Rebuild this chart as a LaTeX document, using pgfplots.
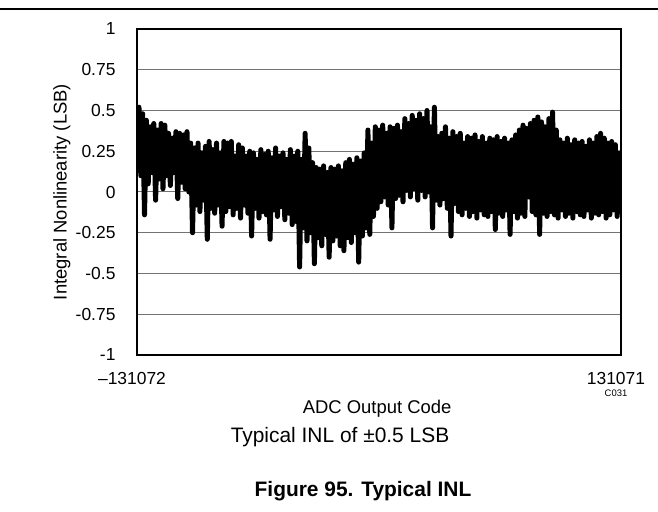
\documentclass[border=0pt]{standalone}
\usepackage{fontspec}
\setmainfont{Liberation Sans}
\usepackage{pgfplots}
\pgfplotsset{compat=1.18}

\begin{document}
\begin{tikzpicture}
\useasboundingbox (-137bp,-157bp) rectangle (521bp,355bp);
\begin{axis}[
  width=484bp, height=326bp, scale only axis,
  xmin=-131072, xmax=131071, ymin=-1, ymax=1,
  scaled x ticks=false,
  xtick={-131072,131071}, xticklabels={–131072,131071},
  ytick={-1,-0.75,-0.5,-0.25,0,0.25,0.5,0.75,1},
  yticklabels={-1,-0.75,-0.5,-0.25,0,0.25,0.5,0.75,1},
  major tick length=0pt,
  ymajorgrids, grid style={black!55, line width=1bp},
  axis line style={line width=2bp},
  tick label style={font=\fontsize{17.5}{20}\selectfont},
  yticklabel style={xshift=-18bp},
  xticklabel style={yshift=-14bp, xshift=-5bp},
  xlabel={ADC Output Code}, ylabel={Integral Nonlinearity (LSB)},
  label style={font=\fontsize{18.5}{22}\selectfont},
  xlabel style={at={(axis description cs:0.496,-0.166)}, anchor=center},
  ylabel style={at={(axis description cs:-0.155,0.5)}, anchor=center},
]
% INL vs output code
\addplot[black, line width=5bp, line join=round, line cap=round] coordinates {
(-131072,0.30) (-130000,0.52) (-129000,0.10) (-128000,0.48) (-127000,-0.14)
(-126000,0.44) (-125000,0.05) (-124000,0.40) (-123000,0.12) (-122000,0.42)
(-121000,-0.05) (-120000,0.38) (-119000,0.08) (-118000,0.42) (-117000,0.02)
(-116000,0.41) (-115000,0.10) (-114000,0.36) (-113000,0.04) (-112000,0.33)
(-111000,0.12) (-110000,0.37) (-109000,-0.04) (-108000,0.36) (-107000,0.06)
(-106000,0.35) (-105000,0.02) (-104000,0.37) (-103000,0.00) (-102000,0.30)
(-101000,-0.25) (-100000,0.27) (-99000,-0.08) (-98000,0.30) (-97000,-0.12)
(-96000,0.24) (-95000,-0.05) (-94000,0.28) (-93000,-0.29) (-92000,0.31)
(-91000,-0.10) (-90000,0.26) (-89000,-0.13) (-88000,0.30) (-87000,-0.08)
(-86000,0.24) (-85000,-0.21) (-84000,0.31) (-83000,-0.12) (-82000,0.30)
(-81000,-0.09) (-80000,0.31) (-79000,-0.14) (-78000,0.22) (-77000,-0.10)
(-76000,0.29) (-75000,-0.16) (-74000,0.27) (-73000,-0.08) (-72000,0.22)
(-71000,-0.13) (-70000,0.25) (-69000,-0.27) (-68000,0.24) (-67000,-0.10)
(-66000,0.20) (-65000,-0.16) (-64000,0.26) (-63000,-0.12) (-62000,0.23)
(-61000,-0.14) (-60000,0.25) (-59000,-0.29) (-58000,0.21) (-57000,-0.11)
(-56000,0.27) (-55000,-0.15) (-54000,0.22) (-53000,-0.09) (-52000,0.24)
(-51000,-0.17) (-50000,0.20) (-49000,-0.13) (-48000,0.26) (-47000,-0.20)
(-46000,0.22) (-45000,-0.18) (-44000,0.25) (-43000,-0.46) (-42000,0.20)
(-41000,-0.22) (-40000,0.36) (-39000,-0.30) (-38000,0.27) (-37000,-0.25)
(-36000,0.18) (-35000,-0.44) (-34000,0.15) (-33000,-0.28) (-32000,0.14)
(-31000,-0.33) (-30000,0.16) (-29000,-0.26) (-28000,0.12) (-27000,-0.40)
(-26000,0.15) (-25000,-0.30) (-24000,0.14) (-23000,-0.27) (-22000,0.16)
(-21000,-0.33) (-20000,0.13) (-19000,-0.36) (-18000,0.18) (-17000,-0.28)
(-16000,0.20) (-15000,-0.31) (-14000,0.17) (-13000,-0.25) (-12000,0.21)
(-11000,-0.43) (-10000,0.19) (-9000,-0.27) (-8000,0.24) (-7000,-0.22)
(-6000,0.38) (-5000,-0.26) (-4000,0.30) (-3000,-0.15) (-2000,0.40)
(-1000,-0.10) (0,0.38) (1000,-0.06) (2000,0.41) (3000,-0.03)
(4000,0.36) (5000,-0.08) (6000,0.40) (7000,-0.22) (8000,0.39)
(9000,-0.04) (10000,0.41) (11000,-0.02) (12000,0.37) (13000,-0.06)
(14000,0.45) (15000,0.01) (16000,0.42) (17000,-0.03) (18000,0.47)
(19000,0.02) (20000,0.44) (21000,-0.05) (22000,0.48) (23000,0.01)
(24000,0.45) (25000,-0.03) (26000,0.50) (27000,0.00) (28000,0.40)
(29000,-0.22) (30000,0.52) (31000,-0.05) (32000,0.34) (33000,-0.08)
(34000,0.36) (35000,-0.04) (36000,0.40) (37000,-0.10) (38000,0.33)
(39000,-0.27) (40000,0.37) (41000,-0.07) (42000,0.34) (43000,-0.12)
(44000,0.36) (45000,-0.14) (46000,0.30) (47000,-0.10) (48000,0.34)
(49000,-0.15) (50000,0.33) (51000,-0.12) (52000,0.35) (53000,-0.16)
(54000,0.31) (55000,-0.11) (56000,0.34) (57000,-0.14) (58000,0.30)
(59000,-0.15) (60000,0.33) (61000,-0.12) (62000,0.32) (63000,-0.23)
(64000,0.34) (65000,-0.13) (66000,0.31) (67000,-0.15) (68000,0.33)
(69000,-0.11) (70000,0.30) (71000,-0.26) (72000,0.32) (73000,-0.12)
(74000,0.35) (75000,-0.16) (76000,0.38) (77000,-0.13) (78000,0.41)
(79000,-0.15) (80000,0.39) (81000,-0.03) (82000,0.42) (83000,-0.12)
(84000,0.44) (85000,-0.14) (86000,0.46) (87000,-0.26) (88000,0.43)
(89000,-0.13) (90000,0.40) (91000,-0.15) (92000,0.45) (93000,-0.12)
(94000,0.49) (95000,-0.14) (96000,0.38) (97000,-0.16) (98000,0.32)
(99000,-0.11) (100000,0.30) (101000,-0.15) (102000,0.33) (103000,-0.13)
(104000,0.29) (105000,-0.16) (106000,0.32) (107000,-0.12) (108000,0.30)
(109000,-0.14) (110000,0.31) (111000,-0.15) (112000,0.28) (113000,-0.11)
(114000,0.32) (115000,-0.16) (116000,0.30) (117000,-0.13) (118000,0.34)
(119000,-0.14) (120000,0.36) (121000,-0.12) (122000,0.33) (123000,-0.16)
(124000,0.30) (125000,-0.14) (126000,0.31) (127000,-0.11) (128000,0.29)
(129000,-0.15) (130000,0.24) (131071,0.08)
};
\end{axis}
\draw[line width=1.5bp] (-137bp,346bp) -- (521bp,346bp);
\node[font=\fontsize{9.5}{11}\selectfont] at (479bp,-38bp) {C031};
\node[font=\fontsize{21}{25}\selectfont] at (203bp,-82bp) {Typical INL of ±0.5 LSB};
\node[font=\fontsize{21}{25}\selectfont\bfseries] at (226bp,-136bp) {Figure 95. Typical INL};
\end{tikzpicture}
\end{document}
